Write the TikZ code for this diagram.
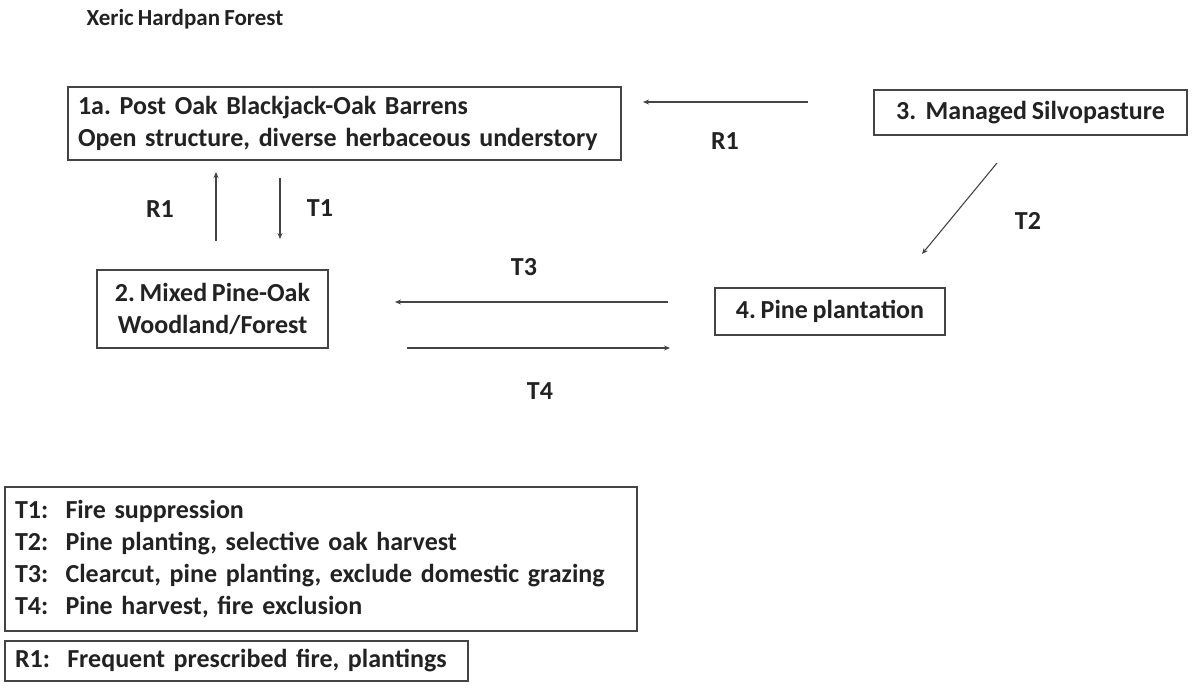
\documentclass[tikz,border=0pt]{standalone}
\usepackage{fontspec}
\setmainfont{Carlito}[WordSpace=0.8]
\frenchspacing
\usetikzlibrary{arrows.meta}
\definecolor{txt}{HTML}{222222}
\definecolor{ln}{HTML}{444444}
\begin{document}
\begin{tikzpicture}[x=1pt,y=-1pt,
  box/.style={draw=ln, line width=1.3pt, text=txt, font=\bfseries\fontsize{26}{32}\selectfont, inner sep=0pt},
  lbl/.style={text=txt, font=\bfseries\fontsize{26}{30}\selectfont},
  arr/.style={draw=ln, line width=1.1pt, -{Stealth[length=6pt,width=5pt]}}]
\useasboundingbox (0,0) rectangle (1194,689);
\node[text=txt, font=\bfseries\fontsize{23}{26}\selectfont, anchor=west] (title) at (83,19) {Xeric Hardpan Forest};
\node[box, minimum width=553, minimum height=73, align=left, text width=533] (b1) at (344.5,123.5)
  {1a. Post Oak Blackjack-Oak Barrens\\Open structure, diverse herbaceous understory};
\node[box, minimum width=313, minimum height=45] (b3) at (1030.5,112.5) {3.\ \ Managed Silvopasture};
\node[box, minimum width=231, minimum height=78, align=center] (b2) at (212.5,309) {2. Mixed Pine-Oak\\Woodland/Forest};
\node[box, minimum width=230, minimum height=47] (b4) at (830,311.5) {4. Pine plantation};
\node[box, minimum width=632, minimum height=144, align=left, text width=612] (leg) at (321,559)
  {T1:\ \ Fire suppression\\T2:\ \ Pine planting, selective oak harvest\\T3:\ \ Clearcut, pine planting, exclude domestic grazing\\T4:\ \ Pine harvest, fire exclusion};
\node[box, minimum width=463, minimum height=40, align=left, text width=443] (leg2) at (236.5,661)
  {R1:\ \ Frequent prescribed fire, plantings};
% connector ends
\coordinate (r1s) at (808,102); \coordinate (r1e) at (643,102);
\coordinate (r1bs) at (216,241); \coordinate (r1be) at (216,172);
\coordinate (t1s) at (280,178); \coordinate (t1e) at (280,239);
\coordinate (t2s) at (997,163); \coordinate (t2e) at (922,254);
\coordinate (t3s) at (668,302); \coordinate (t3e) at (395,302);
\coordinate (t4s) at (407,348); \coordinate (t4e) at (670,348);
\draw[arr] (r1s) -- (r1e);
\draw[arr] (r1bs) -- (r1be);
\draw[arr] (t1s) -- (t1e);
\draw[arr] (t2s) -- (t2e);
\draw[arr] (t3s) -- (t3e);
\draw[arr] (t4s) -- (t4e);
\node[lbl] (lr1) at (725,141) {R1};
\node[lbl] (lr1b) at (160,209) {R1};
\node[lbl] (lt1) at (320,208) {T1};
\node[lbl] (lt2) at (1028,221) {T2};
\node[lbl] (lt3) at (524,267) {T3};
\node[lbl] (lt4) at (540,391) {T4};
\end{tikzpicture}
\end{document}
